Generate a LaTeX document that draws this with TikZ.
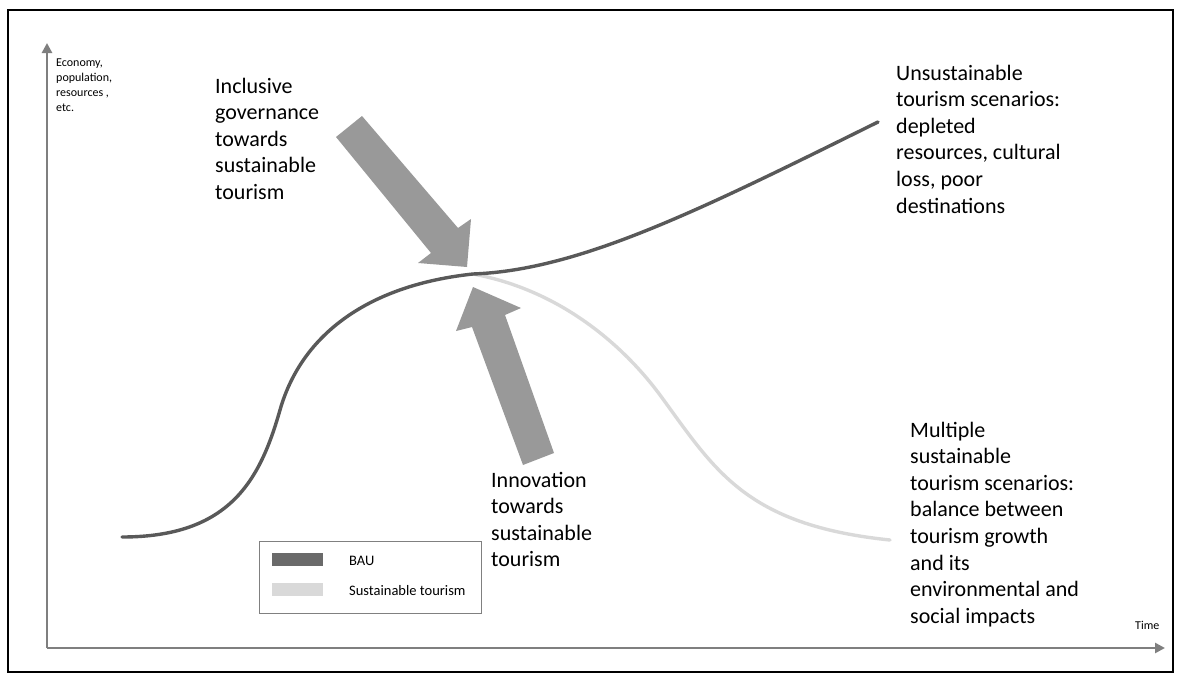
\documentclass[tikz,border=0pt]{standalone}
\usepackage{fontspec}
\setmainfont{Carlito}
\usetikzlibrary{arrows.meta}
\definecolor{axisgray}{HTML}{7F7F7F}
\definecolor{baugray}{HTML}{595959}
\definecolor{sustgray}{HTML}{D9D9D9}
\definecolor{arrowgray}{HTML}{999999}
\definecolor{legendgray}{HTML}{808080}
\begin{document}
\begin{tikzpicture}[x=1pt,y=-1pt,
  frame/.style={draw=black,line width=2.5pt},
  axis/.style={draw=axisgray,line width=2.6pt,-{Triangle[length=10pt,width=10pt]}},
  baucurve/.style={draw=baugray,line width=3.4pt,line cap=round},
  sustcurve/.style={draw=sustgray,line width=3.4pt,line cap=round},
  bigarrow/.style={fill=arrowgray,draw=none},
  % multi-line labels are anchored at the baseline of their last line
  bigtext/.style={font=\fontsize{22}{26.6}\selectfont,align=left,anchor=base west,inner sep=0pt},
  axistext/.style={font=\fontsize{12}{15}\selectfont,align=left,anchor=base west,inner sep=0pt},
  legtext/.style={font=\fontsize{14.5}{17}\selectfont,anchor=base west,inner sep=0pt},
  legbox/.style={draw=legendgray,line width=1pt,anchor=north west,minimum width=222pt,minimum height=72pt,inner sep=0pt},
  swatch/.style={anchor=north west,minimum width=51pt,minimum height=13pt,inner sep=0pt}]
  \useasboundingbox (0,0) rectangle (1181,680);
  % outer frame
  \draw[frame] (8,10) rectangle (1173,672);

  % axes
  \coordinate (origin) at (47,648);
  \coordinate (ytip) at (47,43);
  \coordinate (xtip) at (1165,648);
  \draw[axis] (origin) -- (ytip);
  \draw[axis] (origin) -- (xtip);
  \node[axistext] (ylabel) at (56,111) {Economy,\\population,\\resources ,\\etc.};
  \node[axistext] (xlabel) at (1135,629) {Time};

  % sustainable tourism path, branching off at the junction
  \coordinate (junction) at (473,274);
  \draw[sustcurve] (junction) .. controls (560,290) and (623,345) .. (660,395)
    .. controls (715,470) and (745,525) .. (890,540);
  % business-as-usual path
  \draw[baucurve] (122,537) .. controls (230,537) and (260,480) .. (280,410)
    .. controls (302,333) and (370,285) .. (junction)
    .. controls (580,270) and (700,210) .. (878,122);

  % governance arrow (pointing down-right)
  \fill[bigarrow] (336,137) -- (431,253) -- (418,263) -- (467,267) -- (471,219)
    -- (458,228) -- (362,116) -- cycle;
  % innovation arrow (pointing up)
  \fill[bigarrow] (523,465) -- (472,327) -- (456,331) -- (473,287) -- (521,308)
    -- (505,315) -- (554,453) -- cycle;

  % labels
  \node[bigtext] (gov) at (215,199.4) {Inclusive\\governance\\towards\\sustainable\\tourism};
  \node[bigtext] (inno) at (491,566.8) {Innovation\\towards\\sustainable\\tourism};
  \node[bigtext] (unsust) at (896,213) {Unsustainable\\tourism scenarios:\\depleted\\resources, cultural\\loss, poor\\destinations};
  \node[bigtext] (multi) at (910,623.2) {Multiple\\sustainable\\tourism scenarios:\\balance between\\tourism growth\\and its\\environmental and\\social impacts};

  % legend
  \node[legbox] (legend) at (259,541) {};
  \node[swatch,fill=baugray!90] (bausw) at (272,553) {};
  \node[swatch,fill=sustgray] (sustsw) at (272,583) {};
  \node[legtext] (bautext) at (349,565) {BAU};
  \node[legtext] (susttext) at (349,595) {Sustainable tourism};
\end{tikzpicture}
\end{document}
